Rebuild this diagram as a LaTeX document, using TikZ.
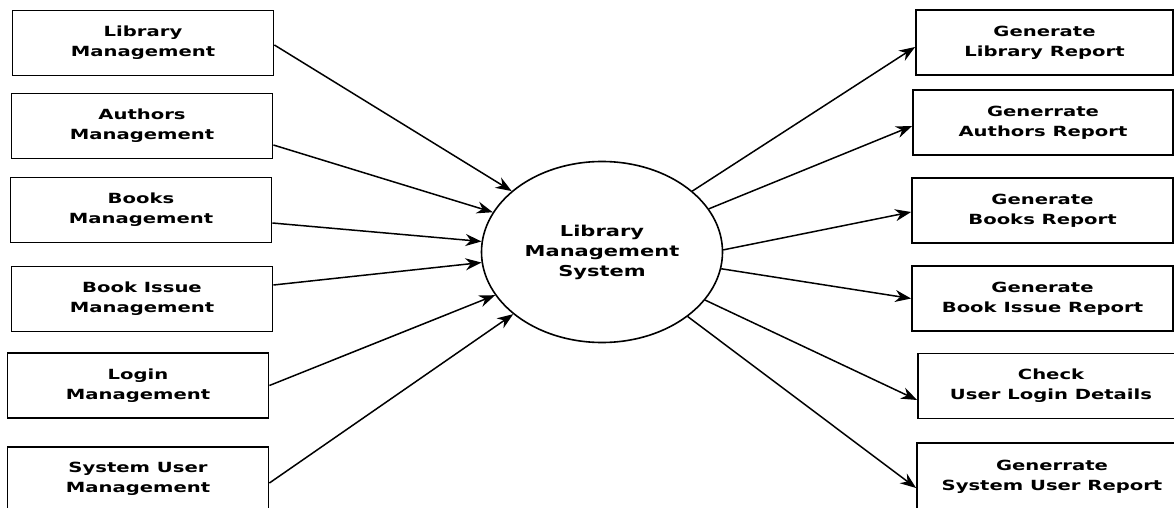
\documentclass[tikz,border=0pt]{standalone}
\usepackage{fontspec}
\newfontfamily\dfdfont[FakeStretch=1.4]{DejaVu Sans}
\usetikzlibrary{arrows.meta,shapes.geometric}
\tikzset{
    procbox/.style={draw, line width=1.8pt, minimum width=261pt, minimum height=65pt,
        inner sep=0pt, align=center, font=\dfdfont\bfseries\fontsize{14}{20}\selectfont},
    sysnode/.style={draw, ellipse, line width=1.6pt, minimum width=241pt, minimum height=181pt,
        inner sep=0pt, align=center, font=\dfdfont\bfseries\fontsize{15}{20}\selectfont},
    flow/.style={line width=1.5pt, -{Stealth[length=16pt,width=12pt]}}
}

\begin{document}
\begin{tikzpicture}[x=1pt,y=-1pt]

            \path[use as bounding box, clip] (0,0) rectangle (1174,508);

            % Draw the system.
            \node[sysnode] (lms) at (602,252) {Library\\Management\\System};

            % Draw input boxes.
            \node[procbox] (libm)  at (143,43)  {Library\\Management};
            \node[procbox] (authm) at (142,126) {Authors\\Management};
            \node[procbox] (bookm) at (141,210) {Books\\Management};
            \node[procbox] (issm)  at (142,299) {Book Issue\\Management};
            \node[procbox] (logm)  at (138,385.5) {Login\\Management};
            \node[procbox, minimum height=64pt] (usrm) at (138,479) {System User\\Management};

            % Draw report boxes.
            \node[procbox, minimum width=257pt] (librep)  at (1044.5,42.5) {Generate\\Library Report};
            \node[procbox, minimum width=260pt] (authrep) at (1043,122.5) {Generrate\\Authors Report};
            \node[procbox, minimum width=261pt] (bookrep) at (1042.5,210.5) {Generate\\Books Report};
            \node[procbox, minimum width=261pt] (issrep)  at (1042.5,298.5) {Generate\\Book Issue Report};
            \node[procbox, minimum width=266pt] (logchk)  at (1051,386) {Check\\User Login Details};
            \node[procbox, minimum width=270pt, minimum height=67pt] (usrrep) at (1052,476.5) {Generrate\\System User Report};

            % Draw input flows.
            \foreach \n/\s/\a in {libm/-2/146.9, authm/-19/160.8, bookm/-13/175,
                                  issm/14/185, logm/0/202, usrm/-4/215}
                \draw[flow] ([yshift=\s pt]\n.east) -- (lms.\a);

            % Draw output flows.
            \foreach \n/\s/\a in {librep/-4.5/34.3, authrep/-3.5/22.6, bookrep/-1.5/1,
                                  issrep/0/-8.5, logchk/-14/-25.5, usrrep/-11.5/-37}
                \draw[flow] (lms.\a) -- ([yshift=\s pt]\n.west);

\end{tikzpicture}
\end{document}
